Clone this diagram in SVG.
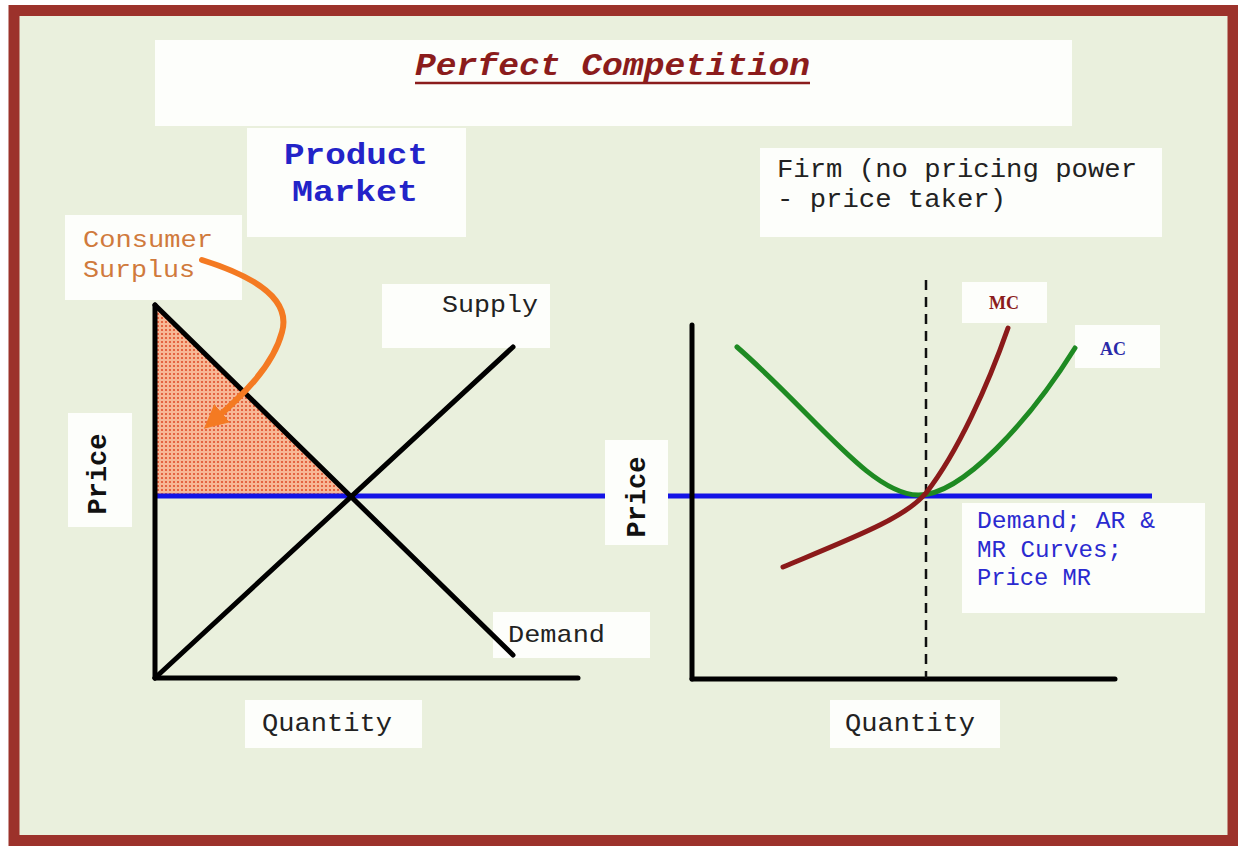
<svg xmlns="http://www.w3.org/2000/svg" width="1238" height="846" viewBox="0 0 1238 846">
<defs>
<style>
.box{fill:#fdfefb}
.mono{font-family:"Liberation Mono","Courier New",monospace}
.ax{stroke:#000;stroke-width:5;fill:none;stroke-linecap:round}
</style>
<pattern id="dots" width="4" height="4" patternUnits="userSpaceOnUse">
<rect width="4" height="4" fill="#f7b896"/>
<circle cx="2" cy="2" r="1.1" fill="#e0502c"/>
</pattern>
<marker id="arr" viewBox="0 0 10 10" refX="5" refY="5" markerWidth="4" markerHeight="4" orient="auto" markerUnits="strokeWidth">
<path d="M0,0 L10,5 L0,10 z" fill="#f47a22"/>
</marker>
</defs>
<rect x="0" y="0" width="1238" height="846" fill="#ffffff"/>
<rect x="14" y="10.5" width="1219" height="830" fill="#eaf0dd" stroke="#9c322b" stroke-width="11"/>

<g id="title">
<rect class="box" x="155" y="40" width="917" height="86"/>
<text class="mono" x="415" y="75" font-size="32" font-style="italic" font-weight="bold" fill="#8b1c1c" textLength="395" lengthAdjust="spacingAndGlyphs">Perfect Competition</text>
<line x1="415" y1="83" x2="810" y2="83" stroke="#8b1c1c" stroke-width="2.5"/>
</g>

<g id="product-market">
<rect class="box" x="247" y="128" width="219" height="109"/>
<text class="mono" x="284" y="164" font-size="29" font-weight="bold" fill="#2323c8" textLength="144" lengthAdjust="spacingAndGlyphs">Product</text>
<text class="mono" x="292" y="201" font-size="29" font-weight="bold" fill="#2323c8" textLength="126" lengthAdjust="spacingAndGlyphs">Market</text>
</g>

<g id="consumer-surplus-label">
<rect class="box" x="65" y="215" width="177" height="85"/>
<text class="mono" x="83" y="247" font-size="23" fill="#d07a3c" textLength="130" lengthAdjust="spacingAndGlyphs">Consumer</text>
<text class="mono" x="83" y="277" font-size="23" fill="#d07a3c" textLength="112" lengthAdjust="spacingAndGlyphs">Surplus</text>
</g>

<g id="firm-label">
<rect class="box" x="760" y="148" width="402" height="89"/>
<text class="mono" x="777" y="177" font-size="25" fill="#222" textLength="360" lengthAdjust="spacingAndGlyphs">Firm (no pricing power</text>
<text class="mono" x="777" y="207" font-size="25" fill="#222" textLength="229" lengthAdjust="spacingAndGlyphs">- price taker)</text>
</g>

<g id="supply-label">
<rect class="box" x="382" y="284" width="168" height="64"/>
<text class="mono" x="442" y="312" font-size="24" fill="#222" textLength="96" lengthAdjust="spacingAndGlyphs">Supply</text>
</g>

<g id="demand-label">
<rect class="box" x="493" y="612" width="157" height="46"/>
<text class="mono" x="508" y="642" font-size="24" fill="#222" textLength="97" lengthAdjust="spacingAndGlyphs">Demand</text>
</g>

<g id="price-left">
<rect class="box" x="68" y="413" width="64" height="114"/>
<text class="mono" transform="translate(106,474) rotate(-90)" text-anchor="middle" font-size="27" font-weight="bold" fill="#111">Price</text>
</g>

<g id="qty-left">
<rect class="box" x="245" y="700" width="177" height="48"/>
<text class="mono" x="262" y="731" font-size="25" fill="#222" textLength="130" lengthAdjust="spacingAndGlyphs">Quantity</text>
</g>

<g id="qty-right">
<rect class="box" x="830" y="700" width="170" height="48"/>
<text class="mono" x="845" y="731" font-size="25" fill="#222" textLength="130" lengthAdjust="spacingAndGlyphs">Quantity</text>
</g>

<g id="mc-label">
<rect class="box" x="962" y="282" width="85" height="41"/>
<text x="1004" y="309" font-family="Liberation Serif, serif" font-size="18" font-weight="bold" fill="#8b1c1c" text-anchor="middle">MC</text>
</g>

<g id="ac-label">
<rect class="box" x="1075" y="325" width="85" height="43"/>
<text x="1113" y="355" font-family="Liberation Serif, serif" font-size="18" font-weight="bold" fill="#2a2aa8" text-anchor="middle">AC</text>
</g>

<g id="connectors">
<polygon points="155,305 348,495 155,495" fill="url(#dots)"/>
<line x1="155" y1="496" x2="605" y2="496" stroke="#1414e6" stroke-width="5"/>
<line x1="668" y1="496" x2="1152" y2="496" stroke="#1414e6" stroke-width="5"/>
<line class="ax" x1="155" y1="305" x2="155" y2="678"/>
<line class="ax" x1="155" y1="678" x2="578" y2="678"/>
<line class="ax" x1="155" y1="305" x2="513" y2="655"/>
<line class="ax" x1="155" y1="678" x2="513" y2="347"/>
<path d="M202,260 C250,275 292,297 282,332 C273,367 240,398 213,421" fill="none" stroke="#f47a22" stroke-width="6" stroke-linecap="round" marker-end="url(#arr)"/>
<line class="ax" x1="692" y1="325" x2="692" y2="679"/>
<line class="ax" x1="692" y1="679" x2="1115" y2="679"/>
<line x1="926" y1="280" x2="926" y2="678" stroke="#111" stroke-width="2.5" stroke-dasharray="10,7"/>
<path d="M737,347 C815,415 870,494 918,495 C962,496 1030,420 1075,348" fill="none" stroke="#1e8a22" stroke-width="5" stroke-linecap="round"/>
<path d="M783,567 C855,537 905,518 926,493 C958,452 988,385 1008,328" fill="none" stroke="#8b1a1a" stroke-width="5" stroke-linecap="round"/>
</g>

<g id="price-right">
<rect class="box" x="605" y="440" width="63" height="105"/>
<text class="mono" transform="translate(645,497) rotate(-90)" text-anchor="middle" font-size="27" font-weight="bold" fill="#111">Price</text>
</g>

<g id="demand-ar-mr">
<rect class="box" x="962" y="503" width="243" height="110"/>
<text class="mono" x="977" y="528" font-size="24" fill="#2a2ad0" textLength="178" lengthAdjust="spacingAndGlyphs">Demand; AR &amp;</text>
<text class="mono" x="977" y="557" font-size="24" fill="#2a2ad0" textLength="145" lengthAdjust="spacingAndGlyphs">MR Curves;</text>
<text class="mono" x="977" y="585" font-size="24" fill="#2a2ad0" textLength="114" lengthAdjust="spacingAndGlyphs">Price MR</text>
</g>
</svg>
